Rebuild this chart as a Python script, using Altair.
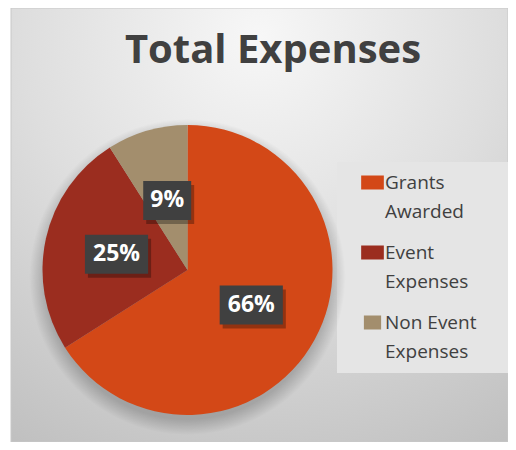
import altair as alt
import pandas as pd

# ---- data ----
categories = ["Grants Awarded", "Event Expenses", "Non Event Expenses"]
values = [66, 25, 9]
slice_order = [1, 2, 3]
slice_colors = ["#D34817", "#9B2D1F", "#A38E6D"]
chart_title = ["Total Expenses"]

df = pd.DataFrame({"Category": categories, "Value": values, "Order": slice_order})
deco = pd.DataFrame({"k": [0]})
title_df = pd.DataFrame({"Title": chart_title})

W, H = 291, 290
FONT = "Open Sans"
TXT = "#404040"

# ---- decoration: chart area background ----
bg_fill = alt.RadialGradient(
    gradient="radial",
    stops=[
        alt.GradientStop(offset=0, color="#f7f7f7"),
        alt.GradientStop(offset=0.5, color="#dedede"),
        alt.GradientStop(offset=1, color="#c0c0c0"),
    ],
    x1=0.5, y1=0.12, x2=0.5, y2=0.12, r1=0, r2=0.95,
)
background = alt.Chart(deco).mark_rect(fill=bg_fill, stroke="#c8c8c8", strokeWidth=1).encode(
    x=alt.value(-31), x2=alt.value(466), y=alt.value(-117), y2=alt.value(317)
)

legend_box = alt.Chart(deco).mark_rect(fill="#e5e5e5").encode(
    x=alt.value(295), x2=alt.value(466), y=alt.value(37), y2=alt.value(248)
)

shadow_fill = alt.RadialGradient(
    gradient="radial",
    stops=[
        alt.GradientStop(offset=0, color="rgba(0,0,0,0.3)"),
        alt.GradientStop(offset=0.9, color="rgba(0,0,0,0.2)"),
        alt.GradientStop(offset=1, color="rgba(0,0,0,0)"),
    ],
    x1=0.5, y1=0.5, x2=0.5, y2=0.5, r1=0, r2=0.5,
)
pie_shadow = alt.Chart(deco).mark_arc(theta=0, theta2=6.2832, radius=158, fill=shadow_fill).encode(
    x=alt.value(W / 2), y=alt.value(H / 2 + 7)
)

title = alt.Chart(title_df).mark_text(
    font=FONT, fontSize=40, fontWeight="bold", color=TXT, baseline="alphabetic", align="center"
).encode(text="Title:N", x=alt.value(231), y=alt.value(-62))

# ---- pie ----
pie = alt.Chart(df).mark_arc(radius=145, strokeWidth=0).encode(
    theta=alt.Theta("Value:Q", stack=True),
    color=alt.Color(
        "Category:N",
        scale=alt.Scale(domain=categories, range=slice_colors),
        sort=categories,
        legend=alt.Legend(
            title=None,
            orient="none",
            legendX=321,
            legendY=48,
            symbolType="M-1,-3.07H1V-1.07H-1Z",
            symbolSize=196,
            symbolStrokeWidth=0,
            symbolOpacity=1,
            labelFont=FONT,
            labelFontSize=19,
            labelColor=TXT,
            labelBaseline="middle",
            labelOffset=3,
            labelLimit=300,
            rowPadding=21,
            labelExpr="[slice(datum.label, 0, lastindexof(datum.label, ' ')), slice(datum.label, lastindexof(datum.label, ' ') + 1)]",
        ),
    ),
    order=alt.Order("Order:Q"),
)

# ---- data labels ----
lab_base = (
    alt.Chart(df)
    .transform_joinaggregate(Total="sum(Value)")
    .transform_window(Cum="sum(Value)", sort=[alt.SortField("Order")], frame=[None, 0])
    .transform_calculate(
        Mid="(datum.Cum - datum.Value / 2) / datum.Total",
        LX="0.5 * sin(2 * PI * datum.Mid)",
        LY="0.5 * cos(2 * PI * datum.Mid)",
        Pct="format(datum.Value / datum.Total, '.0%')",
    )
)
xs = alt.X("LX:Q", scale=alt.Scale(domain=[-1, 1], nice=False, zero=False), axis=None)
ys = alt.Y("LY:Q", scale=alt.Scale(domain=[-1, 1], nice=False, zero=False), axis=None)
box_wide = "M-1.62,-1H1.62V1H-1.62Z"
box_narrow = "M-1.23,-1H1.23V1H-1.23Z"
shape_enc = alt.Shape(
    "Category:N",
    scale=alt.Scale(domain=categories, range=[box_wide, box_wide, box_narrow]),
    legend=None,
)

box_shadow = lab_base.mark_point(
    filled=True, fill="#000000", opacity=0.3, strokeWidth=0, size=1521, xOffset=3, yOffset=4
).encode(x=xs, y=ys, shape=shape_enc)
box = lab_base.mark_point(
    filled=True, fill="#404040", opacity=1, strokeWidth=0, size=1521
).encode(x=xs, y=ys, shape=shape_enc)
label = lab_base.mark_text(
    font=FONT, fontSize=23, fontWeight="bold", color="#ffffff", baseline="middle", align="center"
).encode(x=xs, y=ys, text="Pct:N")

chart = (
    alt.layer(background, legend_box, title, pie_shadow, pie, box_shadow, box, label)
    .properties(
        width=W,
        height=H,
        autosize=alt.AutoSizeParams(type="none"),
        padding={"left": 34, "top": 117, "right": 175, "bottom": 27},
    )
    .configure_view(stroke=None)
    .configure(style={"guide-label": {"lineHeight": 29}})
)

chart.save("out.html", embed_options={"renderer": "svg", "actions": False})
